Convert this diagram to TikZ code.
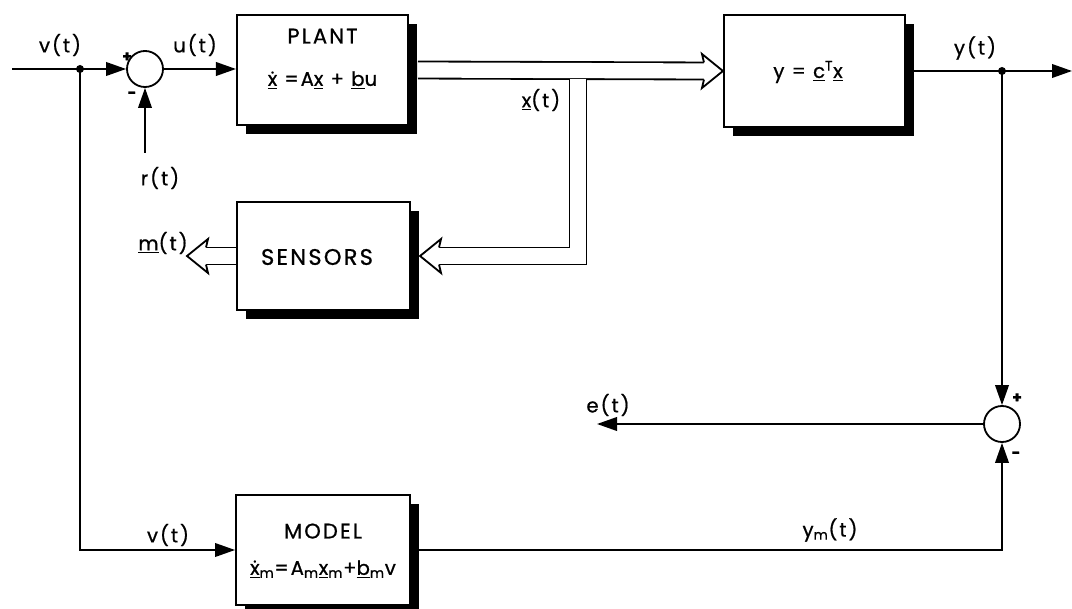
\documentclass[tikz,border=0pt]{standalone}
\usepackage{fontspec}
\setmainfont{Poppins}[LetterSpace=10, FakeBold=0.8]
\usetikzlibrary{arrows.meta,positioning,calc,shadows}
\newcommand{\uv}[1]{\underline{#1}}
\newcommand{\xdot}{\accent"02D9 x}

\begin{document}
\begin{tikzpicture}[x=0.025cm,y=-0.025cm,
    blk/.style={draw, line width=1.3pt, fill=white, inner sep=0pt,
      drop shadow={shadow xshift=0.22cm, shadow yshift=-0.22cm, fill=black, opacity=1}},
    sumc/.style={draw, circle, line width=1.3pt, minimum size=0.9cm, inner sep=0pt},
    lbl/.style={font=\fontsize{14}{16}\selectfont},
    boxtxt/.style={font=\fontsize{14}{16}\selectfont},
    sgn/.style={font=\fontsize{11}{11}\selectfont\bfseries},
    arr/.style={line width=1.3pt, -{Triangle[length=0.5cm, width=0.34cm]}},
    dbl/.style={double, line width=1.3pt, double distance=0.38cm},
    dhead/.pic={\draw[line width=1.3pt, fill=white] (-19,-8.6) -- (-21,-17) -- (0,0) -- (-21,17) -- (-19,8.6);}]
    \useasboundingbox (0,0) rectangle (1072,609);

    % Boxes
    \node[blk, minimum width=4.28cm, minimum height=2.75cm] (plant) at (322.5,70) {};
    \node[boxtxt, font=\fontsize{15}{17}\selectfont] (plantname) at ($(plant.north)+(0,22)$) {PLANT};
    \node[boxtxt] (planteq) at ($(plant.north)+(0,66)$) {\uv{\xdot} =A\uv{x} + \uv{b}u};

    \node[blk, minimum width=4.53cm, minimum height=2.8cm] (ybox) at (814.5,71) {};
    \node[boxtxt] (yeq) at (808,72) {y = \uv{c}\textsuperscript{T}\uv{x}};

    \node[blk, minimum width=4.33cm, minimum height=2.7cm] (sensors) at (323.5,256) {};
    \node[font=\fontsize{16}{18}\selectfont] (sensname) at (317,257) {SENSORS};

    \node[blk, minimum width=4.35cm, minimum height=2.75cm] (model) at (323,550) {};
    \node[boxtxt, font=\fontsize{15}{17}\selectfont] (modelname) at ($(model.north)+(0,37)$) {MODEL};
    \node[boxtxt] (modeleq) at ($(model.north)+(0,75)$)
      {\uv{\xdot}\textsubscript{m}=A\textsubscript{m}\uv{x}\textsubscript{m}+\uv{b}\textsubscript{m}v};

    % Summing junctions
    \node[sumc] (sum1) at (145,69) {};
    \node[sumc] (sum2) at (1002,424) {};

    % Branch points and free ends
    \coordinate (dot1) at (80,69);
    \coordinate (dot2) at (1002,71);
    \coordinate (vin) at (12,69);
    \coordinate (rin) at (145,153);
    \coordinate (yout) at (1072,71);
    \coordinate (eout) at (597,424);
    \coordinate (mout) at (187,256);
    \coordinate (xb) at (578,79);
    \coordinate (xin) at ($(ybox.west)$);
    \coordinate (sin) at ($(sensors.east)+(9,0)$);
    \fill (dot1) circle[radius=0.1cm];
    \fill (dot2) circle[radius=0.1cm];

    % Signal lines
    \draw[line width=1.3pt] (vin) -- (dot1);
    \draw[arr] (dot1) -- (sum1.west);
    \draw[arr] (rin) -- (sum1.south);
    \draw[arr] (sum1.east) -- (plant.west |- sum1);
    \draw[arr] (ybox.east) -- (yout);
    \draw[arr] (dot2) -- (sum2.north);
    \draw[arr] (sum2.west) -- (eout);
    \draw[arr] (model.east) -| (sum2.south);
    \draw[arr] (dot1) |- (model.west);

    % State vector (double lines)
    \draw[dbl] ([xshift=0.22cm]plant.east) -- ($(xin)+(-19,0)$);
    \pic at (xin) {dhead};
    \draw[dbl] (xb) |- ($(sin)+(19,0)$);
    \pic[rotate=180] at (sin) {dhead};
    \draw[dbl] (sensors.west) -- ($(mout)+(19,0)$);
    \pic[rotate=180] at (mout) {dhead};

    % Labels
    \node[lbl] (vlab) at (60,45) {v(t)};
    \node[lbl] (ulab) at (195,45) {u(t)};
    \node[lbl] (rlab) at (160,178) {r(t)};
    \node[lbl] (xlab) at (541,100) {\uv{x}(t)};
    \node[lbl] (ylab) at (975,48) {y(t)};
    \node[lbl] (mlab) at (163,243) {\uv{m}(t)};
    \node[lbl] (elab) at (608,405) {e(t)};
    \node[lbl] (ymlab) at (830,530) {y\textsubscript{m}(t)};
    \node[lbl] (vlab2) at (168,535) {v(t)};

    % Signs at the junctions
    \node[sgn] (p1) at (127,57) {+};
    \node[sgn] (m1) at (132,95) {-};
    \node[sgn] (p2) at (1017,398) {+};
    \node[sgn] (m2) at (1016,455) {-};
\end{tikzpicture}
\end{document}
